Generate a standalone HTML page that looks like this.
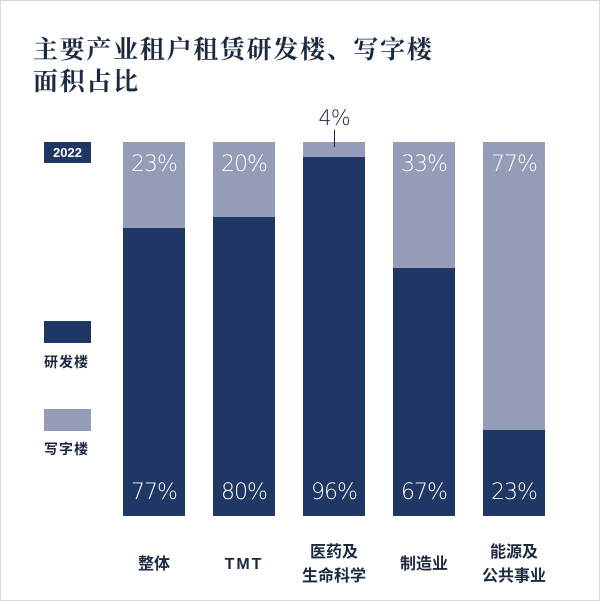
<html><head><style>
body{margin:0;width:600px;height:601px;background:#fff;position:relative;overflow:hidden;font-family:"Liberation Sans","Noto Sans CJK SC",sans-serif}
.frame{position:absolute;left:0;top:0;width:598px;height:599px;border:1px solid #d8d8d8}
.t{position:absolute;left:33px;font-family:"Noto Serif CJK SC",serif;font-weight:bold;font-size:25px;color:#1b2a40;letter-spacing:1.7px}
.bar{position:absolute;top:142px;width:62px;height:374px;background:#1f3764}
.lt{position:absolute;left:0;top:0;width:100%;background:#949cb8}
.p{position:absolute;width:100%;text-align:center;color:#fff;font-size:22px;font-family:"DejaVu Sans","Liberation Sans",sans-serif;font-weight:200;letter-spacing:-1px}
.c{position:absolute;width:100px;text-align:center;font-size:16px;font-weight:bold;color:#1b2a40;line-height:24px}
.lg{position:absolute;left:44px;width:47px;font-size:14px;color:#1b2a40;font-weight:bold}
</style></head><body>
<div class="frame"></div>
<div class="t" style="top:30px">主要产业租户租赁研发楼、写字楼</div>
<div class="t" style="top:62px">面积占比</div>
<div style="position:absolute;left:44px;top:142px;width:47px;height:21px;background:#1f3764;color:#fff;font-size:13px;font-weight:bold;text-align:center;line-height:21px">2022</div>
<div class="lg" style="top:321px;height:22px;background:#1f3764"></div>
<div class="lg" style="top:352px;letter-spacing:1px">研发楼</div>
<div class="lg" style="top:409px;height:22px;background:#949cb8"></div>
<div class="lg" style="top:439px;letter-spacing:1px">写字楼</div>

<div class="bar" style="left:123px"><div class="lt" style="height:86px"></div><div class="p" style="top:10px">23%</div><div class="p" style="top:338px">77%</div></div>
<div class="bar" style="left:213px"><div class="lt" style="height:75px"></div><div class="p" style="top:10px">20%</div><div class="p" style="top:338px">80%</div></div>
<div class="bar" style="left:303px"><div class="lt" style="height:15px"></div><div class="p" style="top:338px">96%</div></div>
<div style="position:absolute;left:334px;top:130px;width:1px;height:17px;background:#1b2a40"></div>
<div style="position:absolute;left:303px;top:106px;width:62px;text-align:center;font-size:21px;color:#1b2a40;font-family:'DejaVu Sans',sans-serif;font-weight:200;letter-spacing:-1px">4%</div>
<div class="bar" style="left:393px"><div class="lt" style="height:126px"></div><div class="p" style="top:10px">33%</div><div class="p" style="top:338px">67%</div></div>
<div class="bar" style="left:483px"><div class="lt" style="height:288px"></div><div class="p" style="top:10px">77%</div><div class="p" style="top:338px">23%</div></div>

<div class="c" style="left:104px;top:553px">整体</div>
<div class="c" style="left:194px;top:553px;letter-spacing:2px">TMT</div>
<div class="c" style="left:284px;top:541px">医药及<br>生命科学</div>
<div class="c" style="left:374px;top:553px">制造业</div>
<div class="c" style="left:464px;top:541px">能源及<br>公共事业</div>
</body></html>
